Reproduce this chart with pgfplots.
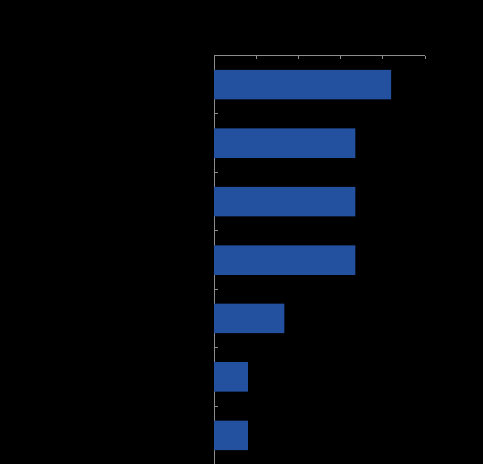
\documentclass[border=0pt]{standalone}
\usepackage{pgfplots}
\pgfplotsset{compat=1.18}
\definecolor{barblue}{HTML}{2351A0}
\definecolor{axisgray}{HTML}{8C8C8C}
\begin{document}
\begin{tikzpicture}
\path[use as bounding box] (0,0) rectangle (483pt,464pt);
\fill[black] (0,0) rectangle (483pt,464pt);
\begin{axis}[
  at={(214pt,-0.5pt)},
  anchor=south west,
  scale only axis,
  width=211pt,
  height=409pt,
  xbar,
  bar width=29.5pt,
  xmin=0, xmax=100,
  ymin=-0.5, ymax=6.5,
  y dir=reverse,
  xtick={0,20,40,60,80,100},
  ytick={0.5,1.5,2.5,3.5,4.5,5.5},
  xticklabels={},
  yticklabels={},
  axis x line*=top,
  axis y line*=left,
  tick align=inside,
  major tick length=3.5pt,
  axis line style={axisgray, line width=0.9pt},
  tick style={axisgray, line width=0.9pt},
  clip=false
]
\addplot[fill=barblue, draw=none] coordinates {
  (84.0,0) (67.0,1) (67.0,2) (67.0,3) (33.4,4) (16.0,5) (16.0,6)
};
\end{axis}
\end{tikzpicture}
\end{document}
